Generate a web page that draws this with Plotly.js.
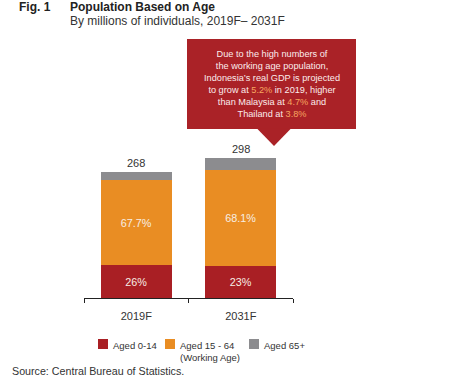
<!DOCTYPE html>
<html>
<head>
<meta charset="utf-8">
<script src="https://cdn.plot.ly/plotly-3.0.1.min.js"></script>
<style>
html,body{margin:0;padding:0;background:#fff;}
#chart{width:461px;height:389px;}
</style>
</head>
<body>
<div id="chart"></div>
<script>
// ---- data ----
const categories = ["2019F", "2031F"];
const totals = [268, 298];
const seriesNames = ["Aged 0-14", "Aged 15 - 64<br>(Working Age)", "Aged 65+"];
const pctYoung = [26, 23];        // % aged 0-14
const pctWorking = [67.7, 68.1];  // % aged 15-64
const youngLabels = ["26%", "23%"];
const workingLabels = ["67.7%", "68.1%"];
const colors = ["#A91F24", "#E98D23", "#8C8C8F"];

// values in millions derived from the labelled shares
const young = totals.map((t, i) => t * pctYoung[i] / 100);
const working = totals.map((t, i) => t * pctWorking[i] / 100);
const elderly = totals.map((t, i) => t - young[i] - working[i]);

// ---- layout geometry ----
const W = 461, H = 389;
const M = {l: 84, r: 168, t: 130, b: 91};
const pw = W - M.l - M.r, ph = H - M.t - M.b;
const px = x => (x - M.l) / pw;
const py = y => (H - M.b - y) / ph;

const font = "Liberation Sans, Arial, Helvetica, sans-serif";
const barText = {family: font, size: 10.8, color: "#F7EDE4"};

const traces = [
  {type: "bar", x: categories, y: young, name: seriesNames[0], marker: {color: colors[0]},
   text: youngLabels, textposition: "inside", insidetextanchor: "middle", textfont: barText,
   hoverinfo: "skip"},
  {type: "bar", x: categories, y: working, name: seriesNames[1], marker: {color: colors[1]},
   text: workingLabels, textposition: "inside", insidetextanchor: "middle", textfont: barText,
   hoverinfo: "skip"},
  {type: "bar", x: categories, y: elderly, name: seriesNames[2], marker: {color: colors[2]},
   textposition: "none", hoverinfo: "skip"}
];

const annotations = [];
// totals above bars
categories.forEach((c, i) => {
  annotations.push({x: c, y: totals[i], xref: "x", yref: "y", text: String(totals[i]),
    showarrow: false, yanchor: "bottom", yshift: 1,
    font: {family: font, size: 11, color: "#333333"}});
});
// titles
annotations.push({xref: "paper", yref: "paper", x: px(17), y: py(7.5), xanchor: "left", yanchor: "middle",
  text: "<b>Fig. 1</b>", showarrow: false, font: {family: font, size: 12, color: "#222"}});
annotations.push({xref: "paper", yref: "paper", x: px(68), y: py(7.5), xanchor: "left", yanchor: "middle",
  text: "<b>Population Based on Age</b>", showarrow: false, font: {family: font, size: 12, color: "#222"}});
annotations.push({xref: "paper", yref: "paper", x: px(68), y: py(21), xanchor: "left", yanchor: "middle",
  text: "By millions of individuals, 2019F\u2013 2031F", showarrow: false, font: {family: font, size: 12, color: "#333"}});
// source
annotations.push({xref: "paper", yref: "paper", x: px(10), y: py(371), xanchor: "left", yanchor: "middle",
  text: "Source: Central Bureau of Statistics.", showarrow: false, font: {family: font, size: 10.7, color: "#333"}});
// callout text
const hl = s => `<span style="color:#F7A660">${s}</span>`;
annotations.push({xref: "paper", yref: "paper", x: px(271.5), y: py(84), xanchor: "center", yanchor: "middle",
  align: "center", showarrow: false,
  text: "Due to the high numbers of<br>the working age population,<br>Indonesia\u2019s real GDP is projected<br>to grow at " +
        hl("5.2%") + " in 2019, higher<br>than Malaysia at " + hl("4.7%") + " and<br>Thailand at " + hl("3.8%"),
  font: {family: font, size: 9.2, color: "#FBECEC"}});

// legend (manual)
const legendX = [98, 165, 249];
const shapes = [];
legendX.forEach((lx, i) => {
  shapes.push({type: "rect", xref: "paper", yref: "paper", x0: px(lx), x1: px(lx + 10), y0: py(349), y1: py(339),
    fillcolor: colors[i], line: {width: 0}});
  annotations.push({xref: "paper", yref: "paper", x: px(lx + 13), y: py(337.5), xanchor: "left", yanchor: "top",
    align: "left", text: seriesNames[i], showarrow: false,
    font: {family: font, size: 9.5, color: "#333"}});
});
// callout box + pointer
shapes.push({type: "rect", xref: "paper", yref: "paper", x0: px(187), x1: px(356), y0: py(129), y1: py(39),
  fillcolor: "#AA2227", line: {width: 0}, layer: "below"});
shapes.push({type: "path", xref: "paper", yref: "paper",
  path: `M ${px(257)} ${py(128.5)} L ${px(291)} ${py(128.5)} L ${px(274)} ${py(146)} Z`,
  fillcolor: "#AA2227", line: {width: 0}, layer: "below"});

const layout = {
  width: W, height: H,
  margin: M,
  paper_bgcolor: "#fff", plot_bgcolor: "#fff",
  barmode: "stack", bargap: 0.32,
  showlegend: false,
  font: {family: font, color: "#333"},
  xaxis: {type: "category", range: [-0.5, 1.5], showline: true, linecolor: "#222", linewidth: 1,
    ticks: "outside", tickson: "boundaries", ticklen: 4, tickcolor: "#222", tickwidth: 1,
    ticklabelstandoff: 8, tickfont: {family: font, size: 11, color: "#333"},
    showgrid: false, zeroline: false, fixedrange: true},
  yaxis: {range: [0, 357], visible: false, showgrid: false, zeroline: false, fixedrange: true},
  annotations: annotations,
  shapes: shapes
};

Plotly.newPlot("chart", traces, layout, {displayModeBar: false, staticPlot: true});
</script>
</body>
</html>
